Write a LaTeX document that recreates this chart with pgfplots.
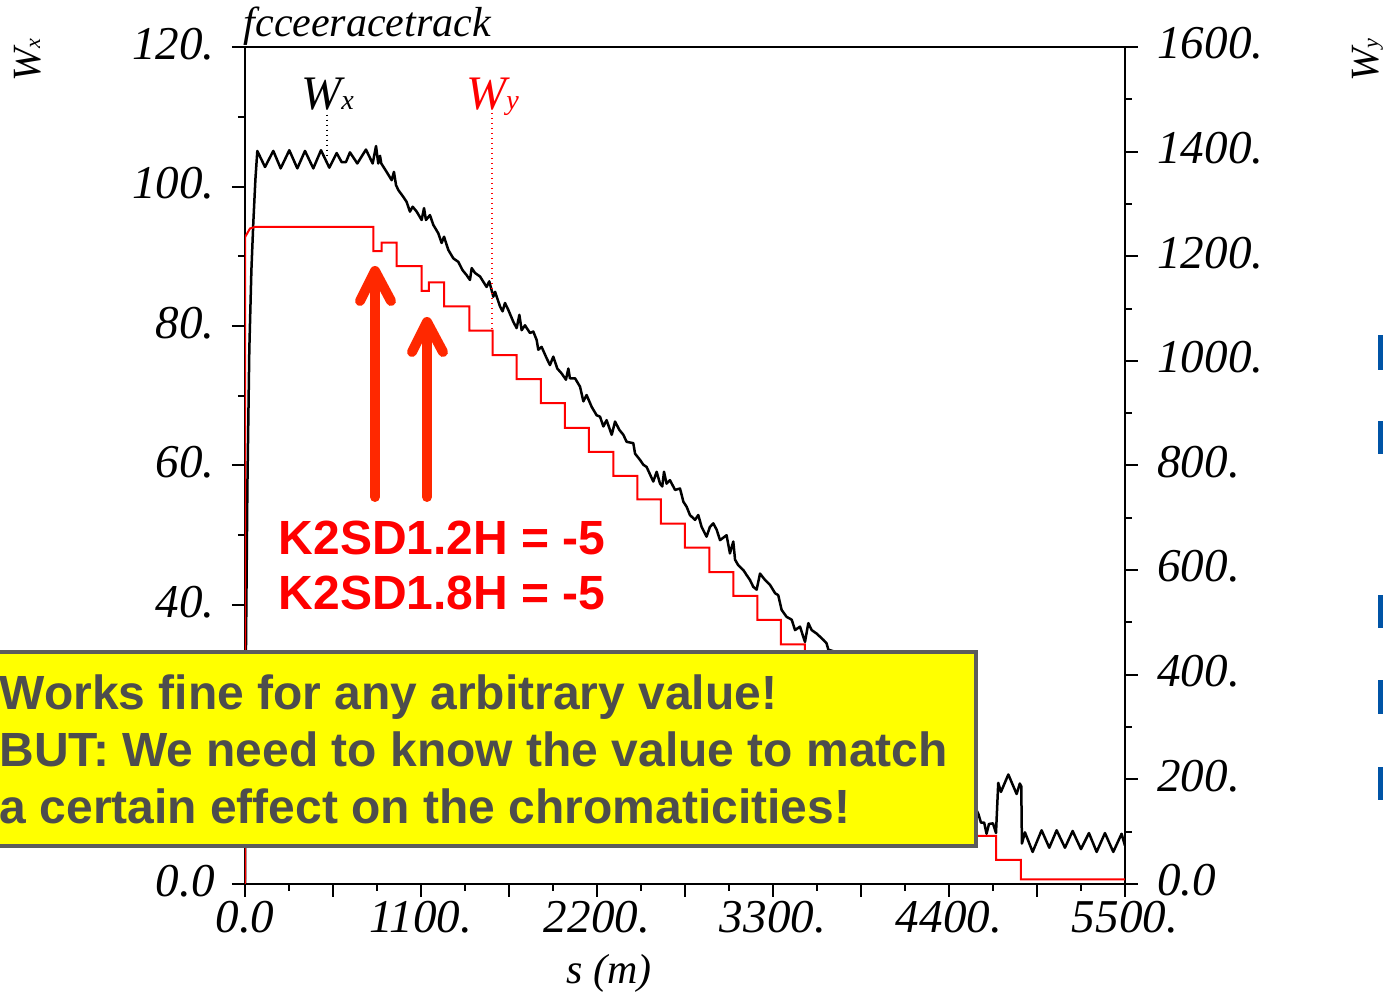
\documentclass[border=0pt]{standalone}
\usepackage{fontspec}
\setmainfont{Liberation Serif}
\newfontfamily\arialfont{Liberation Sans}
\usepackage{pgfplots}
\pgfplotsset{compat=1.18}

\definecolor{arrowred}{RGB}{255,40,0}
\definecolor{boxyellow}{RGB}{255,255,0}
\definecolor{boxgray}{RGB}{92,92,92}
\definecolor{textgray}{RGB}{77,77,77}
\definecolor{slideblue}{RGB}{0,84,166}

\newcommand{\tickfont}{\fontsize{13.4}{15}\selectfont\itshape}

% W_x along the lattice (left axis)
\pgfplotstableread{
s Wx
0 0
3 18
6 33.5
15 57
27 76.6
40 88
52 94.8
65 101
77 105.1
125 102.8
177 105.1
223 102.6
277 105.2
327 102.6
375 105.1
427 102.6
475 105.2
527 102.7
573 104.8
604 103.5
631 103.5
656 104.9
702 103.3
756 105.3
798 103.3
819 105.8
833 103.3
844 104.4
852 103.3
885 102.1
917 100.9
931 102.1
944 100.2
958 99.5
990 98.5
1010 97.8
1031 96.4
1048 97.1
1073 96.4
1104 95.2
1119 96.9
1131 95.2
1156 95.9
1177 94.5
1208 93.3
1229 91.9
1244 92.8
1271 90.9
1302 89.7
1333 89.2
1360 88.0
1385 87.3
1406 86.6
1417 88.3
1438 87.6
1469 87.1
1510 85.6
1527 86.4
1552 84.2
1563 84.9
1594 82.8
1610 82.1
1625 83.3
1646 82.3
1677 80.6
1698 79.7
1715 81.6
1729 79.4
1750 80.1
1781 79.0
1802 79.2
1823 78.0
1833 76.6
1854 77.0
1885 75.4
1906 74.4
1927 75.6
1952 73.9
1979 73.2
2006 72.3
2021 73.9
2031 72.5
2063 72.5
2094 71.3
2115 69.2
2135 70.1
2167 68.4
2198 67.2
2219 67.0
2240 65.6
2260 66.5
2292 64.4
2313 66.3
2340 65.1
2365 64.4
2385 63.4
2427 63.2
2438 61.7
2469 60.8
2490 60.1
2510 59.8
2542 58.2
2552 57.7
2573 59.1
2594 57.4
2608 57.0
2619 59.1
2635 57.4
2656 57.9
2688 56.5
2719 56.7
2740 54.8
2760 54.1
2781 52.9
2813 52.2
2833 52.9
2854 51.2
2885 49.8
2906 51.2
2927 51.7
2948 50.8
2969 49.3
3010 50.0
3031 47.4
3052 49.1
3063 46.5
3083 45.7
3115 45.0
3135 44.3
3156 43.6
3177 42.6
3198 42.2
3219 44.5
3250 43.6
3281 42.9
3313 41.7
3333 41.4
3354 39.3
3385 38.3
3417 37.9
3438 36.4
3469 36.9
3500 34.7
3521 37.4
3542 36.4
3573 35.9
3615 35.0
3635 34.5
3646 33.6
3700 33.2
3750 31.0
3800 31.5
3850 29.0
3900 28.5
3950 26.8
4000 26.5
4050 24.2
4100 24.0
4150 21.8
4200 21.5
4250 19.3
4300 19.0
4350 16.8
4400 16.5
4450 14.2
4500 13.8
4550 11.5
4583 10.1
4600 8.8
4620 8.8
4635 7.2
4650 8.6
4675 8.7
4694 7.3
4708 14.5
4725 13.2
4771 15.7
4823 12.9
4843 14.4
4852 14.0
4856 5.8
4875 7.4
4923 4.6
4979 7.7
5027 5.2
5073 7.7
5125 5.2
5173 7.6
5225 5.0
5275 7.3
5323 4.6
5375 7.3
5427 4.6
5479 7.2
5500 5.5
}\wxdata

% W_y along the lattice (right axis), step-wise
\pgfplotstableread{
s Wy
0 0
1 1237
31 1253
62 1256
802 1256
802 1210
854 1210
854 1226
948 1226
948 1181
1104 1181
1104 1134
1150 1134
1150 1150
1244 1150
1244 1104
1402 1104
1402 1058
1548 1058
1548 1011
1698 1011
1698 965
1850 965
1850 919
2000 919
2000 872
2150 872
2150 826
2302 826
2302 780
2452 780
2452 735
2600 735
2600 689
2750 689
2750 643
2902 643
2902 596
3052 596
3052 551
3202 551
3202 505
3350 505
3350 458
3500 458
3500 412
3650 412
3650 366
3800 366
3800 319
3950 319
3950 273
4100 273
4100 226
4250 226
4250 180
4400 180
4400 134
4550 134
4550 92
4694 92
4694 46
4850 46
4850 9
5500 9
}\wydata

\begin{document}
\begin{tikzpicture}[x=0.1mm,y=0.1mm]
\path[use as bounding box] (0,0) rectangle (1383,992);
\clip (0,0) rectangle (1383,992);

\pgfplotsset{
  common/.style={
    at={(24.5mm,10.8mm)}, anchor=south west,
    scale only axis, width=88mm, height=83.7mm,
    xmin=0, xmax=5500,
    axis line style={line width=0.2mm},
    every tick/.style={line width=0.2mm, black},
    tick align=outside,
    major tick length=1.3mm, minor tick length=0.7mm,
    ticklabel style={font=\tickfont},
  }
}

\begin{axis}[common,
  ymin=0, ymax=120,
  xtick={0,550,...,5500},
  xticklabels={0.0,,1100.,,2200.,,3300.,,4400.,,5500.},
  minor x tick num=1,
  ytick={0,20,...,120},
  yticklabels={0.0,,40.,60.,80.,100.,120.},
  minor y tick num=1,
  xtick pos=left, ytick pos=left,
  yticklabel style={xshift=-0.5mm, yshift=0.3mm},
  xticklabel style={yshift=0.8mm},
]
\addplot[black, line width=0.25mm, line join=round] table[x=s,y=Wx]{\wxdata};
\draw[black, line width=0.2mm, dash pattern=on 0.15mm off 0.35mm] (axis cs:515,110.3) -- (axis cs:515,104.2);
\end{axis}

\begin{axis}[common,
  ymin=0, ymax=1600,
  axis x line=none, axis y line*=right,
  ytick={0,200,...,1600},
  yticklabels={0.0,200.,400.,600.,800.,1000.,1200.,1400.,1600.},
  minor y tick num=1,
  yticklabel style={xshift=0.7mm, yshift=0.35mm},
]
\addplot[red, line width=0.2mm] table[x=s,y=Wy]{\wydata};
\draw[red, line width=0.2mm, dash pattern=on 0.15mm off 0.35mm] (axis cs:1546,1474) -- (axis cs:1546,1057);
\end{axis}

% titles and axis names
\node[anchor=base west, inner sep=0pt, font=\fontsize{11.95}{13}\selectfont\itshape] at (243,955) {fcceeracetrack};
\node[anchor=base, inner sep=0pt, font=\fontsize{11.95}{13}\selectfont\itshape] at (609,8) {s (m)};
\node[anchor=base, rotate=90, inner sep=0pt, font=\fontsize{11.4}{13}\selectfont\itshape] at (40,932) {W{\fontsize{6.3}{7}\selectfont x}};
\node[anchor=base, rotate=90, inner sep=0pt, font=\fontsize{11.4}{13}\selectfont\itshape] at (1378,932) {W{\fontsize{6.3}{7}\selectfont y}};

% curve tags
\node[anchor=base, inner sep=0pt, font=\fontsize{13.7}{15}\selectfont\itshape] at (327.5,882) {W{\fontsize{8}{9}\selectfont x}};
\node[anchor=base, inner sep=0pt, red, font=\fontsize{13.7}{15}\selectfont\itshape] at (492.5,882) {W{\fontsize{8}{9}\selectfont y}};

% sextupole markers
\begin{scope}[arrowred, line width=1mm, line cap=round, line join=round]
  \draw (375,495) -- (375,716);
  \draw (360,691) -- (375,721) -- (391,691);
  \draw (427,495) -- (427,665);
  \draw (412,640) -- (427,670) -- (443,640);
\end{scope}
\node[anchor=base west, inner sep=0pt, red, font=\arialfont\bfseries\fontsize{13.66}{15}\selectfont] at (278,437) {K2SD1.2H = -5};
\node[anchor=base west, inner sep=0pt, red, font=\arialfont\bfseries\fontsize{13.66}{15}\selectfont] at (278,382) {K2SD1.8H = -5};

% remark box
\draw[boxgray, fill=boxyellow, line width=0.4mm] (-10,146) rectangle (976,340);
\begin{scope}[every node/.style={anchor=base west, inner sep=0pt, text=textgray, font=\arialfont\bfseries\fontsize{13.65}{15}\selectfont}]
  \node at (-1,282) {Works fine for any arbitrary value!};
  \node at (-1,225) {BUT: We need to know the value to match};
  \node at (-1,168) {a certain effect on the chromaticities!};
\end{scope}

% bullets of the neighbouring column
\fill[slideblue] (1378,622) rectangle (1390,657);
\fill[slideblue] (1378,538) rectangle (1390,571);
\fill[slideblue] (1378,364) rectangle (1390,397);
\fill[slideblue] (1378,278) rectangle (1390,312);
\fill[slideblue] (1378,192) rectangle (1390,225);
\end{tikzpicture}
\end{document}
